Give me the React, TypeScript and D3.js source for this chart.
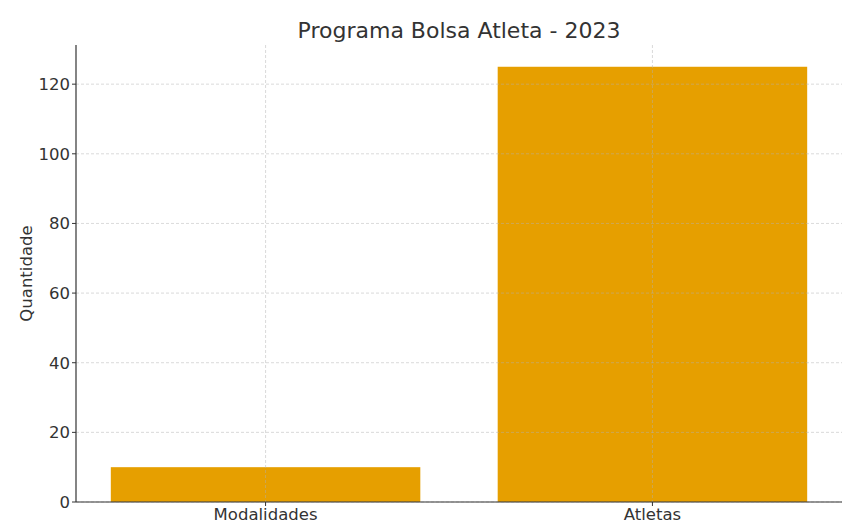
import React from "react";
import * as d3 from "d3";

const categories = ["Modalidades", "Atletas"];
const values = [10, 125];
const yTicks = [0, 20, 40, 60, 80, 100, 120];
const title = "Programa Bolsa Atleta - 2023";
const yLabel = "Quantidade";

export default function App() {
  const W = 842, H = 526;
  const left = 76, right = 842, top = 45, bottom = 502;
  const x = d3.scaleLinear().domain([-0.49, 1.49]).range([left, right]);
  const y = d3.scaleLinear().domain([0, 131.25]).range([bottom, top]);
  const bw = x(0.4) - x(-0.4);
  const font = "DejaVu Sans, sans-serif";
  const textColor = "#333333";
  return (
    <svg width={W} height={H} style={{ position: "absolute", left: 0, top: 0, background: "#fff" }} fontFamily={font}>
      {categories.map((c, i) => (
        <rect key={c} x={x(i) - bw / 2} y={y(values[i])} width={bw} height={y(0) - y(values[i])} fill="#E69F00" />
      ))}
      {yTicks.map((t) => (
        <line key={"gy" + t} x1={left} x2={right} y1={y(t)} y2={y(t)} stroke="#b0b0b0" strokeOpacity={0.6} strokeWidth={0.8} strokeDasharray="3,2" />
      ))}
      {categories.map((c, i) => (
        <line key={"gx" + c} x1={x(i)} x2={x(i)} y1={top} y2={bottom} stroke="#b0b0b0" strokeOpacity={0.6} strokeWidth={0.8} strokeDasharray="3,2" />
      ))}
      <line x1={left} x2={left} y1={top} y2={bottom} stroke="#333" strokeWidth={1.2} />
      <line x1={left} x2={right} y1={bottom} y2={bottom} stroke="#333" strokeWidth={1.2} />
      {yTicks.map((t) => (
        <g key={"ty" + t}>
          <line x1={left - 4} x2={left} y1={y(t)} y2={y(t)} stroke="#333" strokeWidth={1} />
          <text x={left - 6} y={y(t)} dy="0.36em" textAnchor="end" fontSize={16.5} fill={textColor}>{t}</text>
        </g>
      ))}
      {categories.map((c, i) => (
        <g key={"tx" + c}>
          <line x1={x(i)} x2={x(i)} y1={bottom} y2={bottom + 4} stroke="#333" strokeWidth={1} />
          <text x={x(i)} y={bottom + 18} textAnchor="middle" fontSize={16.5} fill={textColor}>{c}</text>
        </g>
      ))}
      <text x={(left + right) / 2} y={38} textAnchor="middle" fontSize={22} fill={textColor}>{title}</text>
      <text transform={`translate(32,${(top + bottom) / 2}) rotate(-90)`} textAnchor="middle" fontSize={16.5} fill={textColor}>{yLabel}</text>
    </svg>
  );
}
